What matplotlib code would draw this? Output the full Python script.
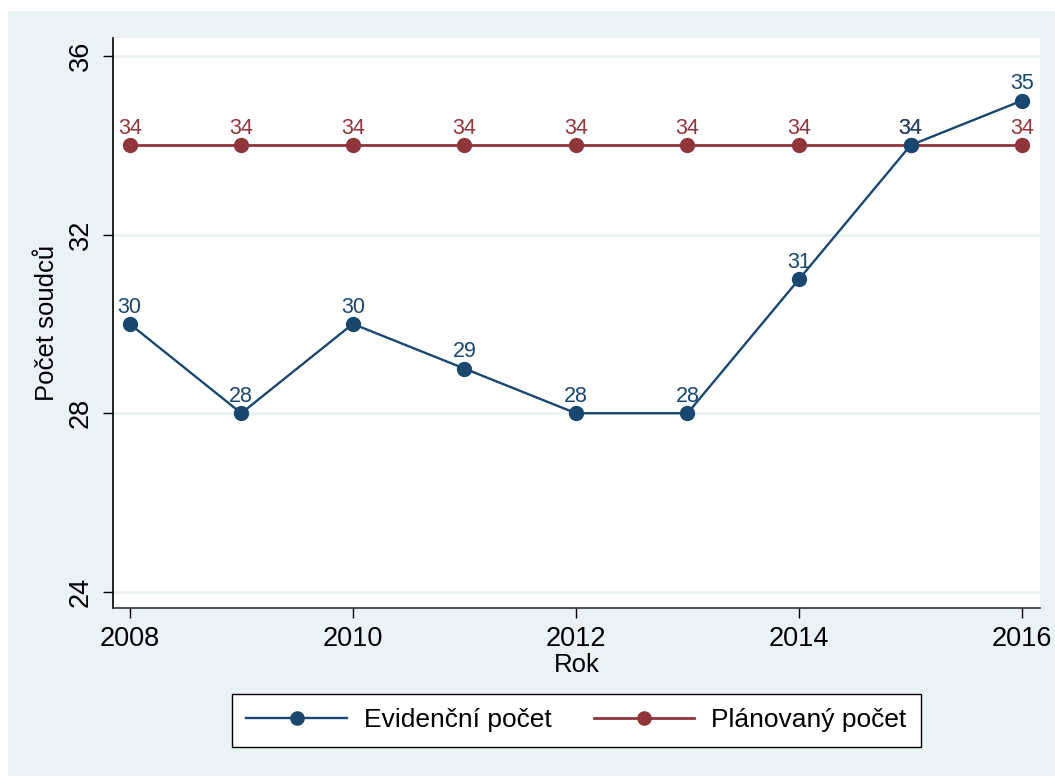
import matplotlib
matplotlib.use("Agg")
import matplotlib.pyplot as plt
from matplotlib.patches import Rectangle

plt.rcParams['font.family'] = ['Liberation Sans', 'DejaVu Sans']

years = [2008, 2009, 2010, 2011, 2012, 2013, 2014, 2015, 2016]
evidencni = [30, 28, 30, 29, 28, 28, 31, 34, 35]
planovany = [34, 34, 34, 34, 34, 34, 34, 34, 34]
series_names = ["Evidenční počet", "Plánovaný počet"]
x_ticks = [2008, 2010, 2012, 2014, 2016]
y_ticks = [24, 28, 32, 36]

BLUE = "#1A476F"
RED = "#90353B"
BG = "#EAF2F3"

W, H = 1055, 776
fig = plt.figure(figsize=(W / 100, H / 100), dpi=100)
fig.patch.set_facecolor("white")
fig.patches.append(Rectangle((8 / W, 0), 1 - 8 / W, 1 - 11 / H, transform=fig.transFigure,
                             facecolor=BG, edgecolor="none", zorder=-10))

ax = fig.add_axes([113 / W, 1 - 608 / H, (1040 - 113) / W, (608 - 38) / H])
ax.set_facecolor("white")

ax.set_xlim(2007.85, 2016.16)
ax.set_ylim(23.64, 36.4)

for y in y_ticks:
    ax.axhline(y, color=BG, lw=2.2, zorder=0)

ax.plot(years, planovany, color=RED, lw=2.0, marker="o", markersize=10,
        label=series_names[1], zorder=3)
ax.plot(years, evidencni, color=BLUE, lw=1.7, marker="o", markersize=10,
        label=series_names[0], zorder=4)

for x, v in zip(years, planovany):
    ax.annotate(str(v), (x, v), xytext=(0, 8), textcoords="offset points",
                ha="center", va="baseline", color=RED, fontsize=15.5, zorder=5)
for x, v in zip(years, evidencni):
    ax.annotate(str(v), (x, v), xytext=(0, 8), textcoords="offset points",
                ha="center", va="baseline", color=BLUE, fontsize=15.5, zorder=5)

for s in ["top", "right"]:
    ax.spines[s].set_visible(False)
ax.spines["left"].set_color("black")
ax.spines["bottom"].set_color("#333333")
ax.spines["left"].set_linewidth(1.2)
ax.spines["bottom"].set_linewidth(1.2)

ax.set_xticks(x_ticks)
ax.set_yticks(y_ticks)
ax.tick_params(axis="both", direction="out", length=7, width=1, labelsize=19.5)
ax.tick_params(axis="y", pad=7)
ax.tick_params(axis="x", pad=6)
for lab in ax.get_yticklabels():
    lab.set_rotation(90)
    lab.set_va("center")

ax.set_xlabel("Rok", fontsize=18.5, labelpad=1)
ax.set_ylabel("Počet soudců", fontsize=18.5, labelpad=6)

h, l = ax.get_legend_handles_labels()
order = [1, 0]
leg = fig.legend([h[i] for i in order], [l[i] for i in order], ncol=2,
                 loc="center", bbox_to_anchor=(576.5 / W, 1 - 720.5 / H),
                 frameon=True, fancybox=False, framealpha=1, fontsize=19,
                 handlelength=3.8, handletextpad=0.65, columnspacing=1.6,
                 borderpad=0.55, numpoints=1, markerscale=0.95)
leg.get_frame().set_edgecolor("black")
leg.get_frame().set_linewidth(1.0)
leg.get_frame().set_facecolor("white")

fig.savefig("out.png", dpi=100, facecolor=fig.get_facecolor())
